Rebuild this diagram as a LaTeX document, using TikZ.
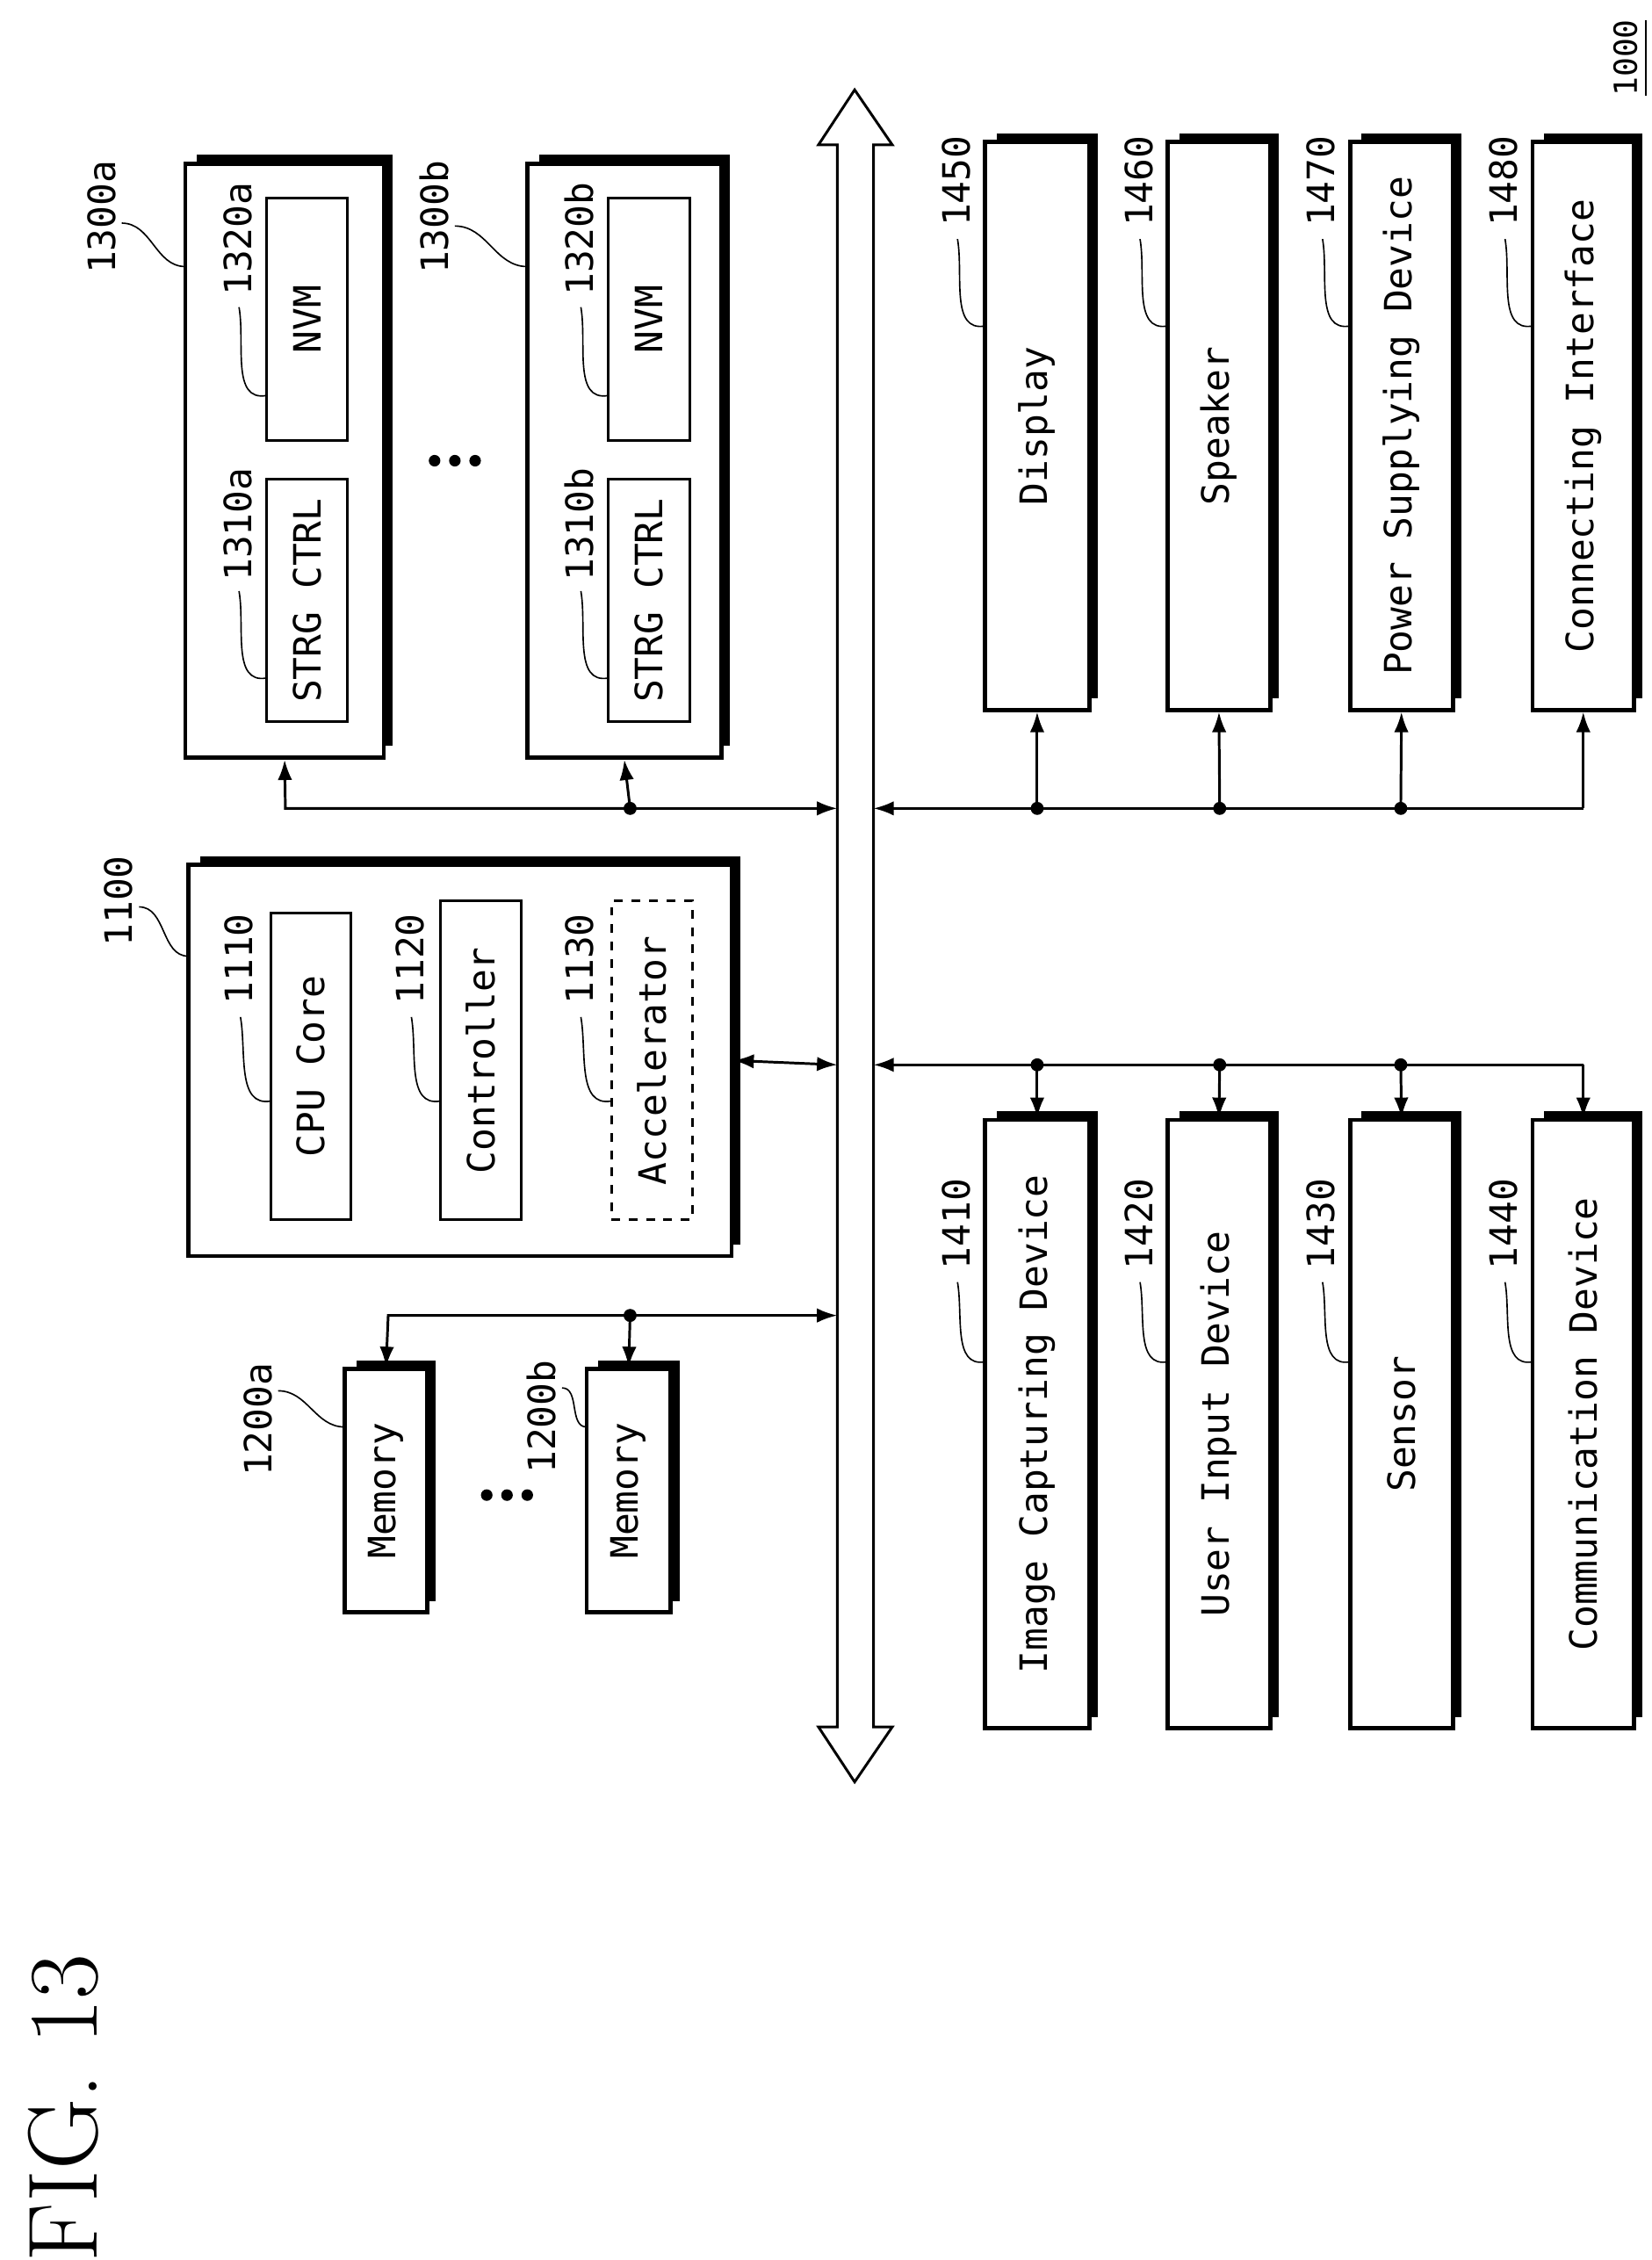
\documentclass[tikz,border=0pt]{standalone}
\usepackage{fontspec}
\setmonofont{DejaVu Sans Mono}
\usetikzlibrary{arrows.meta}
\begin{document}
\begin{tikzpicture}[x=0.5pt,y=-0.5pt,font=\ttfamily\fontsize{13}{13}\selectfont,
  box/.style={draw,line width=1.4pt,fill=white,inner sep=0pt},
  ibox/.style={draw,line width=0.9pt,fill=white,inner sep=0pt},
  arr/.style={line width=0.9pt,-{Latex[length=7pt,width=5pt]}},
  darr/.style={line width=0.9pt,{Latex[length=7pt,width=5pt]}-{Latex[length=7pt,width=5pt]}},
  lead/.style={line width=0.5pt},
  dot/.style={circle,fill,inner sep=0pt,minimum size=4.5pt},
  lbl/.style={rotate=90,inner sep=1pt}]
\useasboundingbox (0,0) rectangle (1140,1560);
\newcommand{\shb}[7]{%
  \fill (#2+8,#3-6) rectangle (#4+6,#5-8);
  \node[#6,minimum width={(#4-#2)*0.5pt},minimum height={(#5-#3)*0.5pt}] (#1) at ({(#2+#4)/2},{(#3+#5)/2}) {\rotatebox{90}{#7}};}
\newcommand{\ib}[7]{%
  \node[#6,minimum width={(#4-#2)*0.5pt},minimum height={(#5-#3)*0.5pt}] (#1) at ({(#2+#4)/2},{(#3+#5)/2}) {\rotatebox{90}{#7}};}

% title
\node[lbl,font=\rmfamily\fontsize{34}{34}\selectfont] (fig) at (44,1455) {FIG. 13};
\node[lbl,font=\ttfamily\fontsize{11}{11}\selectfont] (t1000) at (1122,40) {1000};
\draw[line width=0.7pt] (1136,14) -- (1136,66);

% bus
\draw[line width=0.9pt,fill=white] (590,62) -- (616,100) -- (603,100) -- (603,1192) -- (616,1192) -- (590,1230)
  -- (565,1192) -- (578,1192) -- (578,100) -- (565,100) -- cycle;
\node[inner sep=0pt] (bus) at (590,646) {};

% storage 1300a/b
\shb{s1300a}{128}{113}{265}{523}{box}{}
\ib{s1320a}{184}{137}{240}{304}{ibox}{NVM}
\ib{s1310a}{184}{331}{240}{498}{ibox}{STRG CTRL}
\shb{s1300b}{364}{113}{498}{523}{box}{}
\ib{s1320b}{420}{137}{476}{304}{ibox}{NVM}
\ib{s1310b}{420}{331}{476}{498}{ibox}{STRG CTRL}
\foreach \x in {300,314,328} \fill (\x,318) circle (2pt);

\node[lbl] (l1300a) at (70,150) {1300a};
\draw[lead] (84,154) to[out=0,in=180] (128,184);
\node[lbl] (l1300b) at (300,150) {1300b};
\draw[lead] (314,156) to[out=0,in=180] (364,184);
\node[lbl] (l1320a) at (164,165) {1320a};
\draw[lead] (165,212) to[out=-80,in=-170] (184,273);
\node[lbl] (l1310a) at (164,362) {1310a};
\draw[lead] (165,408) to[out=-80,in=-170] (184,468);
\node[lbl] (l1320b) at (400,165) {1320b};
\draw[lead] (401,212) to[out=-80,in=-170] (420,273);
\node[lbl] (l1310b) at (400,362) {1310b};
\draw[lead] (401,408) to[out=-80,in=-170] (420,468);

% 1100
\shb{s1100}{130}{597}{505}{867}{box}{}
\ib{s1110}{187}{630}{242}{842}{ibox}{CPU Core}
\ib{s1120}{304}{622}{360}{842}{ibox}{Controller}
\ib{s1130}{422}{622}{478}{842}{ibox,dashed}{Accelerator}
\node[lbl] (l1100) at (82,622) {1100};
\draw[lead] (96,626) to[out=0,in=180] (130,660);
\node[lbl] (l1110) at (165,662) {1110};
\draw[lead] (166,702) to[out=-80,in=-170] (187,760);
\node[lbl] (l1120) at (283,662) {1120};
\draw[lead] (284,702) to[out=-80,in=-170] (304,760);
\node[lbl] (l1130) at (400,662) {1130};
\draw[lead] (401,702) to[out=-80,in=-170] (422,760);

% memories
\begingroup\fontsize{11}{11}\selectfont
\shb{m1200a}{238}{945}{295}{1113}{box}{Memory}
\shb{m1200b}{405}{945}{463}{1113}{box}{Memory}
\endgroup
\foreach \x in {336,350,364} \fill (\x,1032) circle (2pt);
\node[lbl] (l1200a) at (178,980) {1200a};
\draw[lead] (192,960) to[out=0,in=180] (238,985);
\node[lbl] (l1200b) at (374,978) {1200b};
\draw[lead] (388,958) to[out=0,in=180] (405,985);

% right top devices
\shb{d1450}{680}{98}{752}{490}{box}{Display}
\shb{d1460}{806}{98}{877}{490}{box}{Speaker}
\shb{d1470}{932}{98}{1003}{490}{box}{Power Supplying Device}
\shb{d1480}{1058}{98}{1128}{490}{box}{Connecting Interface}
\node[lbl] (l1450) at (660,125) {1450};
\draw[lead] (661,165) to[out=-80,in=-170] (680,225);
\node[lbl] (l1460) at (786,125) {1460};
\draw[lead] (787,165) to[out=-80,in=-170] (806,225);
\node[lbl] (l1470) at (912,125) {1470};
\draw[lead] (913,165) to[out=-80,in=-170] (932,225);
\node[lbl] (l1480) at (1038,125) {1480};
\draw[lead] (1039,165) to[out=-80,in=-170] (1058,225);

% right bottom devices
\shb{d1410}{680}{773}{752}{1193}{box}{Image Capturing Device}
\shb{d1420}{806}{773}{877}{1193}{box}{User Input Device}
\shb{d1430}{932}{773}{1003}{1193}{box}{Sensor}
\shb{d1440}{1058}{773}{1128}{1193}{box}{Communication Device}
\node[lbl] (l1410) at (660,845) {1410};
\draw[lead] (661,885) to[out=-80,in=-170] (680,940);
\node[lbl] (l1420) at (786,845) {1420};
\draw[lead] (787,885) to[out=-80,in=-170] (806,940);
\node[lbl] (l1430) at (912,845) {1430};
\draw[lead] (913,885) to[out=-80,in=-170] (932,940);
\node[lbl] (l1440) at (1038,845) {1440};
\draw[lead] (1039,885) to[out=-80,in=-170] (1058,940);

% connectors
\coordinate (bm) at (578,908);
\coordinate (bs) at (578,558);
\coordinate (bc) at (578,735);
\coordinate (rt) at (603,558);
\coordinate (rb) at (603,735);
\coordinate (jm) at (435,908);
\coordinate (js) at (435,558);
\draw[arr] (jm) -- (bm);
\draw[arr] (jm) -- (268,908) -- (m1200a.north);
\draw[arr] (jm) -- (m1200b.north);
\node[dot] at (jm) {};
\draw[arr] (js) -- (bs);
\draw[arr] (js) -- (197,558) -- (s1300a.south);
\draw[arr] (js) -- (s1300b.south);
\node[dot] at (js) {};
\draw[darr] (s1100.east) -- (bc);
\draw[line width=0.9pt] (716,558) -- (1093,558);
\draw[arr] (716,558) -- (rt);
\foreach \n/\x in {d1450/716,d1460/842,d1470/967,d1480/1093}
  \draw[arr] (\x,558) -- (\n.south);
\foreach \x in {716,842,967} \node[dot] at (\x,558) {};
\draw[line width=0.9pt] (716,735) -- (1093,735);
\draw[arr] (716,735) -- (rb);
\foreach \n/\x in {d1410/716,d1420/842,d1430/967,d1440/1093}
  \draw[arr] (\x,735) -- (\n.north);
\foreach \x in {716,842,967} \node[dot] at (\x,735) {};
\end{tikzpicture}
\end{document}
